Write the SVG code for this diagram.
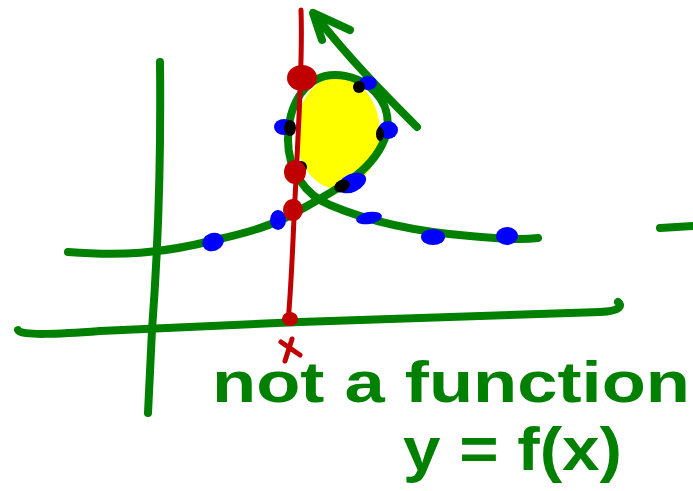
<svg xmlns="http://www.w3.org/2000/svg" width="693" height="491" viewBox="0 0 693 491">
<style>
.g{fill:none;stroke:#008000;stroke-width:8;stroke-linecap:round;stroke-linejoin:round}
.r{fill:none;stroke:#c00000;stroke-width:5;stroke-linecap:round;stroke-linejoin:round}
.b{fill:#0000ff}
.k{fill:#000000}
.rd{fill:#c00000}
.t{font-family:"Liberation Sans",Arial,sans-serif;font-weight:bold;fill:#008000}
</style>
<rect width="693" height="491" fill="#ffffff"/>
<g id="axes">
<path class="g" d="M160,62 C161,150 158,250 152,330 L148,413"/>
<path class="g" d="M18,330 C20,336 60,334 100,331 L300,322 L600,312 C622,311 622,305 618,302"/>
<path class="g" d="M660,228 L693,226"/>
</g>
<g id="fill">
<ellipse cx="338" cy="133" rx="42" ry="56" fill="#ffff00"/>
</g>
<g id="curve">
<path class="g" d="M68,252 C120,256 160,254 215,240 C250,232 275,225 300,210 C340,188 375,170 386,135 C395,100 365,75 335,75 C305,75 288,105 288,140 C288,170 305,195 330,205 C370,222 420,232 470,236 C500,239 520,240 538,238"/>
<path class="g" d="M417,127 C390,100 350,60 315,15"/>
<path class="g" stroke-width="9" d="M350,30 L313,13 L322,40"/>
</g>
<g id="points">
<ellipse class="b" cx="213" cy="242" rx="11" ry="9" transform="rotate(-20 213 242)"/>
<ellipse class="b" cx="278" cy="220" rx="8" ry="10"/>
<ellipse class="b" cx="284" cy="127" rx="10" ry="8"/>
<ellipse class="k" cx="290" cy="128" rx="6" ry="8"/>
<ellipse class="b" cx="368" cy="83" rx="9" ry="7"/>
<ellipse class="k" cx="359" cy="87" rx="6" ry="6"/>
<ellipse class="b" cx="388" cy="130" rx="10" ry="9"/>
<ellipse class="k" cx="380" cy="134" rx="4" ry="7"/>
<ellipse class="b" cx="352" cy="183" rx="15" ry="9" transform="rotate(-25 352 183)"/>
<ellipse class="k" cx="342" cy="186" rx="8" ry="6" transform="rotate(-25 342 186)"/>
<ellipse class="b" cx="369" cy="218" rx="13" ry="6" transform="rotate(-10 369 218)"/>
<ellipse class="b" cx="433" cy="237" rx="12" ry="8"/>
<ellipse class="b" cx="507" cy="236" rx="11" ry="9"/>
<ellipse class="k" cx="301" cy="167" rx="6" ry="6"/>
</g>
<g id="vertical-line">
<path class="r" d="M301,10 C303,60 298,130 296,180 C293,230 292,280 288,322"/>
<ellipse class="rd" cx="302" cy="78" rx="15" ry="13"/>
<ellipse class="rd" cx="295" cy="172" rx="11" ry="12"/>
<ellipse class="rd" cx="293" cy="210" rx="10" ry="11"/>
<ellipse class="rd" cx="290" cy="319" rx="8" ry="7"/>
<path class="r" d="M281,342 L300,355 M292,339 L285,361"/>
</g>
<g id="labels">
<text class="t" x="212" y="402" font-size="58" textLength="478" lengthAdjust="spacingAndGlyphs">not a function</text>
<text class="t" x="403" y="470" font-size="62" textLength="219" lengthAdjust="spacingAndGlyphs">y = f(x)</text>
</g>
</svg>
